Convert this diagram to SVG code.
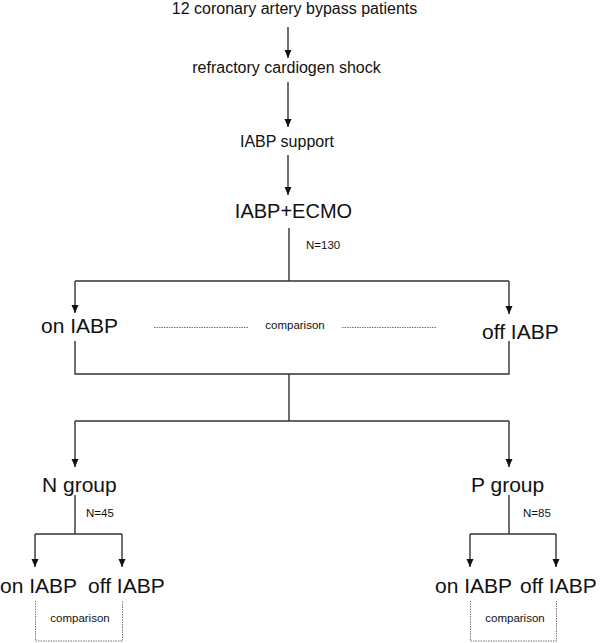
<svg xmlns="http://www.w3.org/2000/svg" width="600" height="643" viewBox="0 0 600 643">
<defs>
<style>
text{font-family:"Liberation Sans",Arial,sans-serif;fill:#111}
.m{font-size:16px}
.b{font-size:21px}
.s{font-size:11.5px}
.ln{stroke:#333;stroke-width:1.4;fill:none}
.dt{stroke:#777;stroke-width:1;stroke-dasharray:1.5 1;fill:none}
</style>
<marker id="ah" viewBox="0 0 8 8" refX="8" refY="4" markerWidth="8" markerHeight="8" markerUnits="userSpaceOnUse" orient="auto">
<path d="M0,0.5 L8,4 L0,7.5 z" fill="#111"/>
</marker>
</defs>
<rect width="600" height="643" fill="#fff"/>
<g id="connectors">
<line class="ln" x1="288" y1="27" x2="288" y2="58" marker-end="url(#ah)"/>
<line class="ln" x1="288" y1="82" x2="288" y2="127" marker-end="url(#ah)"/>
<line class="ln" x1="288" y1="155" x2="288" y2="195" marker-end="url(#ah)"/>
<line class="ln" x1="289" y1="228" x2="289" y2="281"/>
<line class="ln" x1="75" y1="281" x2="509" y2="281"/>
<line class="ln" x1="75" y1="281" x2="75" y2="313" marker-end="url(#ah)"/>
<line class="ln" x1="509" y1="281" x2="509" y2="314" marker-end="url(#ah)"/>
<polyline class="ln" points="75,341 75,374 509,374 509,341"/>
<line class="ln" x1="289" y1="374" x2="289" y2="421"/>
<line class="ln" x1="75" y1="421" x2="509" y2="421"/>
<line class="ln" x1="75" y1="421" x2="75" y2="467" marker-end="url(#ah)"/>
<line class="ln" x1="509" y1="421" x2="509" y2="467" marker-end="url(#ah)"/>
<line class="ln" x1="75" y1="495" x2="75" y2="534"/>
<line class="ln" x1="35" y1="534" x2="122" y2="534"/>
<line class="ln" x1="35" y1="534" x2="35" y2="567" marker-end="url(#ah)"/>
<line class="ln" x1="122" y1="534" x2="122" y2="567" marker-end="url(#ah)"/>
<line class="ln" x1="509" y1="495" x2="509" y2="534"/>
<line class="ln" x1="470" y1="534" x2="556" y2="534"/>
<line class="ln" x1="470" y1="534" x2="470" y2="567" marker-end="url(#ah)"/>
<line class="ln" x1="556" y1="534" x2="556" y2="567" marker-end="url(#ah)"/>
<line class="dt" x1="154" y1="327.5" x2="248" y2="327.5"/>
<line class="dt" x1="342" y1="327.5" x2="436" y2="327.5"/>
<polyline class="dt" points="35.5,601 35.5,641 122.5,641 122.5,601"/>
<polyline class="dt" points="470.5,601 470.5,641 556.5,641 556.5,601"/>
</g>
<g id="n_patients"><text class="m" x="294.5" y="13.5" text-anchor="middle">12 coronary artery bypass patients</text></g>
<g id="n_shock"><text class="m" x="286.5" y="73" text-anchor="middle">refractory cardiogen shock</text></g>
<g id="n_iabp"><text class="m" x="287" y="147" text-anchor="middle">IABP support</text></g>
<g id="n_ecmo"><text x="293.5" y="218" text-anchor="middle" style="font-size:20px">IABP+ECMO</text><text class="s" x="306" y="249">N=130</text></g>
<g id="n_on"><text class="b" x="41" y="333">on IABP</text></g>
<g id="n_cmp"><text class="s" x="295" y="329" text-anchor="middle">comparison</text></g>
<g id="n_off"><text class="b" x="482" y="339">off IABP</text></g>
<g id="n_ngroup"><text class="b" x="42" y="492">N group</text><text class="s" x="86" y="517">N=45</text></g>
<g id="n_pgroup"><text class="b" x="471" y="492">P group</text><text class="s" x="523" y="517">N=85</text></g>
<g id="n_n_on"><text class="b" x="0" y="593">on IABP</text></g>
<g id="n_n_off"><text class="b" x="88" y="593">off IABP</text></g>
<g id="n_n_cmp"><text class="s" x="80" y="622" text-anchor="middle">comparison</text></g>
<g id="n_p_on"><text class="b" x="435" y="593">on IABP</text></g>
<g id="n_p_off"><text class="b" x="520" y="593">off IABP</text></g>
<g id="n_p_cmp"><text class="s" x="515" y="622" text-anchor="middle">comparison</text></g>
</svg>
